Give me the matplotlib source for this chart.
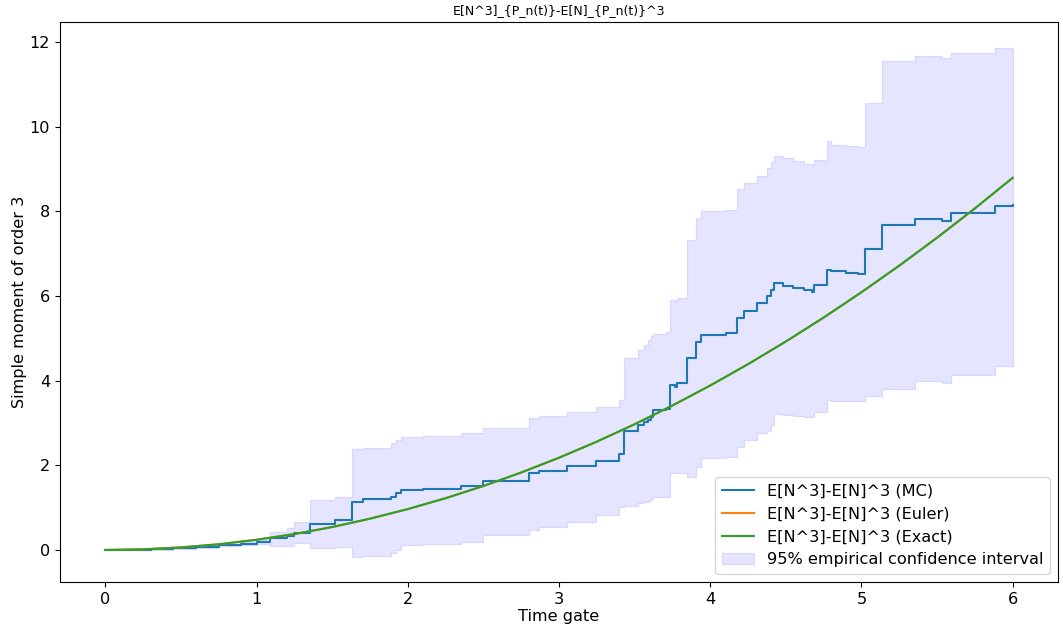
import matplotlib
matplotlib.use("Agg")
import matplotlib.pyplot as plt
import numpy as np

# Exact / Euler curve
t_exact = [0.00, 0.25, 0.50, 0.75, 1.00, 1.25, 1.50, 1.75, 2.00, 2.25, 2.50, 2.75,
           3.00, 3.25, 3.50, 3.75, 4.00, 4.25, 4.50, 4.75, 5.00, 5.25, 5.50, 5.75, 6.00]
exact_vals = [0.000, 0.015, 0.060, 0.135, 0.241, 0.376, 0.542, 0.739, 0.966, 1.223,
              1.511, 1.830, 2.179, 2.559, 2.970, 3.412, 3.885, 4.389, 4.924, 5.490,
              6.088, 6.716, 7.376, 8.068, 8.791]
euler_vals = list(exact_vals)

# Monte Carlo estimate (step function) and its confidence band
t_mc = [0.00, 0.15, 0.30, 0.45, 0.60, 0.75, 0.90, 1.00, 1.09, 1.20, 1.25, 1.353,
        1.518, 1.628, 1.705, 1.892, 1.925, 1.954, 2.10, 2.354, 2.497, 2.80, 2.87,
        3.05, 3.245, 3.40, 3.432, 3.52, 3.564, 3.586, 3.608, 3.623, 3.707, 3.733,
        3.769, 3.78, 3.845, 3.909, 3.938, 4.103, 4.175, 4.224, 4.312, 4.378, 4.40,
        4.422, 4.48, 4.55, 4.62, 4.675, 4.686, 4.774, 4.80, 4.90, 4.98, 5.021,
        5.133, 5.353, 5.534, 5.593, 5.885, 6.00]
mc_vals = [0.00, 0.005, 0.02, 0.045, 0.075, 0.11, 0.15, 0.18, 0.28, 0.33, 0.41, 0.61,
           0.71, 1.14, 1.20, 1.26, 1.34, 1.42, 1.44, 1.51, 1.63, 1.82, 1.87,
           1.98, 2.10, 2.27, 2.80, 2.96, 3.02, 3.07, 3.15, 3.30, 3.34, 3.90,
           3.86, 3.94, 4.53, 4.92, 5.09, 5.13, 5.49, 5.65, 5.83, 6.00, 6.14,
           6.30, 6.24, 6.19, 6.15, 6.10, 6.26, 6.61, 6.58, 6.55, 6.51, 7.11,
           7.68, 7.83, 7.78, 7.97, 8.13, 8.15]
ci_lower = [0.00, 0.00, 0.01, 0.03, 0.055, 0.085, 0.11, 0.13, 0.10, 0.10, 0.16, 0.05,
            0.06, -0.155, -0.14, -0.06, 0.00, 0.12, 0.15, 0.20, 0.35, 0.47, 0.55,
            0.67, 0.83, 1.02, 1.05, 1.10, 1.13, 1.16, 1.20, 1.26, 1.26, 1.81,
            1.83, 1.83, 1.73, 1.97, 2.17, 2.20, 2.44, 2.60, 2.76, 2.80, 2.95,
            3.21, 3.19, 3.16, 3.14, 3.13, 3.27, 3.54, 3.52, 3.52, 3.52, 3.64,
            3.80, 3.98, 3.94, 4.13, 4.35, 4.39]
ci_upper = [0.00, 0.01, 0.035, 0.07, 0.11, 0.15, 0.20, 0.24, 0.43, 0.51, 0.67, 1.17,
            1.24, 2.39, 2.42, 2.53, 2.60, 2.68, 2.70, 2.76, 2.87, 3.11, 3.17,
            3.27, 3.37, 3.55, 4.53, 4.72, 4.85, 4.95, 5.05, 5.10, 5.15, 5.91,
            5.88, 5.95, 7.32, 7.84, 8.01, 8.03, 8.52, 8.68, 8.84, 9.02, 9.17,
            9.31, 9.25, 9.18, 9.12, 9.09, 9.21, 9.65, 9.57, 9.55, 9.51, 10.55,
            11.54, 11.67, 11.63, 11.75, 11.87, 11.87]

title = "E[N^3]_{P_n(t)}-E[N]_{P_n(t)}^3"
labels = ["E[N^3]-E[N]^3 (MC)", "E[N^3]-E[N]^3 (Euler)", "E[N^3]-E[N]^3 (Exact)",
          "95% empirical confidence interval"]

fs = 11.6
fig = plt.figure(figsize=(10.63, 6.30), dpi=100)
ax = fig.add_subplot(111)
fig.subplots_adjust(left=0.0564, right=0.9953, top=0.965, bottom=0.0762)

ax.plot(t_mc, mc_vals, drawstyle="steps-post", color="C0", lw=1.5, label=labels[0])
ax.plot(t_exact, euler_vals, color="C1", lw=1.5, label=labels[1])
ax.plot(t_exact, exact_vals, color="C2", lw=1.5, label=labels[2])
ax.fill_between(t_mc, ci_lower, ci_upper, step="post", color="b", alpha=0.1,
                label=labels[3])

ax.set_title(title, fontsize=9)
ax.set_xlabel("Time gate", fontsize=fs, labelpad=2)
ax.set_ylabel("Simple moment of order 3", fontsize=fs, labelpad=2)
ax.tick_params(labelsize=fs)
ax.set_xticks([0, 1, 2, 3, 4, 5, 6])
ax.set_yticks([0, 2, 4, 6, 8, 10, 12])
ax.legend(loc="lower right", fontsize=fs)

fig.savefig("out.png", dpi=100)
